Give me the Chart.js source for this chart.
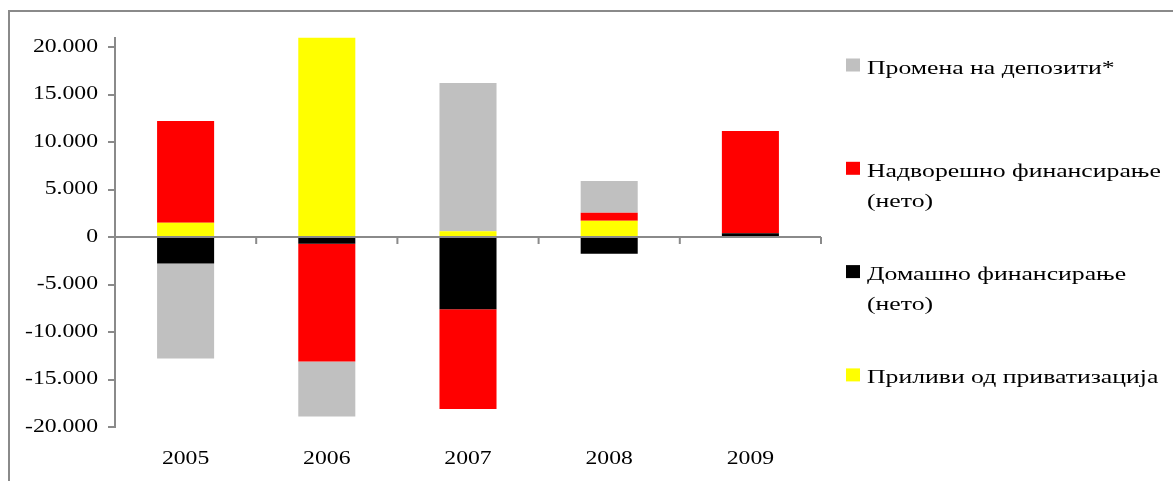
<!DOCTYPE html>
<html>
<head>
<meta charset="utf-8">
<script src="https://cdn.jsdelivr.net/npm/chart.js@4.4.1/dist/chart.umd.min.js"></script>
<style>
  html, body { margin: 0; padding: 0; background: #ffffff; }
  canvas { display: block; }
</style>
</head>
<body>
<canvas id="chart" width="1173" height="481"></canvas>
<script>
// Budget deficit financing by source, millions of denars
const years = ['2005', '2006', '2007', '2008', '2009'];
const privatizationInflows = [1500, 21000, 600, 1700, 0];
const domesticFinancing = [-2800, -700, -7600, -1750, 400];
const externalFinancing = [10700, -12400, -10500, 850, 10750];
const depositChange = [-10000, -5800, 15600, 3350, 0];

const seriesNames = [
  'Приливи од приватизација',
  'Домашно финансирање\n(нето)',
  'Надворешно финансирање\n(нето)',
  'Промена на депозити*'
];
const seriesColors = ['#ffff00', '#000000', '#ff0000', '#c0c0c0'];

const yTickValues = [-20000, -15000, -10000, -5000, 0, 5000, 10000, 15000, 20000];
const yMin = -20000;
const yMax = 21000;

const FONT = '18.5px "Liberation Serif", "Times New Roman", serif';
const AXIS_STRETCH = 1.28;
const LEGEND_STRETCH = 1.39;
const AXIS_GREY = '#8a8a8a';

function formatThousands(v) {
  const s = String(Math.abs(v)).replace(/\B(?=(\d{3})+(?!\d))/g, '.');
  return (v < 0 ? '-' : '') + s;
}

// Wide serif text, as in the printed report
function wideText(ctx, text, x, y, align, baseline, stretch) {
  ctx.save();
  ctx.translate(x, y);
  ctx.scale(stretch, 1);
  ctx.font = FONT;
  ctx.fillStyle = '#000000';
  ctx.textAlign = align;
  ctx.textBaseline = baseline;
  ctx.fillText(text, 0, 0);
  ctx.restore();
}

const framePlugin = {
  id: 'frame',
  beforeDraw(chart) {
    const ctx = chart.ctx;
    ctx.save();
    ctx.fillStyle = '#ffffff';
    ctx.fillRect(0, 0, chart.width, chart.height);
    ctx.fillStyle = AXIS_GREY;
    ctx.fillRect(8, 10, chart.width - 8, 2);
    ctx.fillRect(8, 10, 2, chart.height - 10);
    ctx.restore();
  }
};

const axisPlugin = {
  id: 'zeroAxis',
  afterDatasetsDraw(chart) {
    const ctx = chart.ctx;
    const x = chart.scales.x;
    const y = chart.scales.y;
    const area = chart.chartArea;
    const y0 = y.getPixelForValue(0);
    const n = chart.data.labels.length;
    const step = x.getPixelForValue(1) - x.getPixelForValue(0);

    ctx.save();
    ctx.strokeStyle = AXIS_GREY;
    ctx.lineWidth = 2;
    ctx.beginPath();
    ctx.moveTo(area.left, y0);
    ctx.lineTo(area.right, y0);
    for (let i = 0; i <= n; i++) {
      const bx = x.getPixelForValue(0) - step / 2 + i * step;
      ctx.moveTo(bx, y0);
      ctx.lineTo(bx, y0 + 7);
    }
    ctx.stroke();
    ctx.restore();

    // value labels on the vertical axis
    y.ticks.forEach(t => {
      wideText(ctx, formatThousands(t.value), area.left - 17, y.getPixelForValue(t.value), 'right', 'middle', AXIS_STRETCH);
    });
    // year labels along the bottom
    chart.data.labels.forEach((lab, i) => {
      wideText(ctx, lab, x.getPixelForValue(i), area.bottom + 32, 'center', 'middle', AXIS_STRETCH);
    });
  }
};

const legendPlugin = {
  id: 'sideLegend',
  afterDraw(chart) {
    const ctx = chart.ctx;
    const area = chart.chartArea;
    const entries = chart.data.datasets.map(d => ({
      lines: d.label.split('\n'),
      color: d.backgroundColor
    })).reverse();
    const markX = area.right + 25;
    const textX = area.right + 46;
    entries.forEach((e, i) => {
      const base = 73.5 + i * 103.3;
      ctx.save();
      ctx.fillStyle = e.color;
      ctx.fillRect(markX, base - 15, 14, 13);
      ctx.restore();
      e.lines.forEach((line, j) => {
        wideText(ctx, line, textX, base + j * 30, 'left', 'alphabetic', LEGEND_STRETCH);
      });
    });
  }
};

const seriesValues = [privatizationInflows, domesticFinancing, externalFinancing, depositChange];

new Chart(document.getElementById('chart'), {
  type: 'bar',
  data: {
    labels: years,
    datasets: seriesValues.map((vals, i) => ({
      label: seriesNames[i],
      data: vals,
      backgroundColor: seriesColors[i],
      borderWidth: 0,
      barPercentage: 0.404,
      categoryPercentage: 1
    }))
  },
  options: {
    responsive: false,
    animation: false,
    devicePixelRatio: 1,
    layout: { padding: { top: 37.5, right: 352, bottom: 54, left: 0 } },
    plugins: {
      legend: { display: false },
      tooltip: { enabled: false }
    },
    scales: {
      x: {
        display: false,
        stacked: true,
        offset: true
      },
      y: {
        stacked: true,
        min: yMin,
        max: yMax,
        afterBuildTicks: s => { s.ticks = yTickValues.map(v => ({ value: v })); },
        afterFit: s => { s.width = 115; },
        ticks: { display: false },
        grid: {
          drawOnChartArea: false,
          drawTicks: true,
          tickLength: 7,
          color: AXIS_GREY,
          lineWidth: 2
        },
        border: { display: true, color: AXIS_GREY, width: 2 }
      }
    }
  },
  plugins: [framePlugin, axisPlugin, legendPlugin]
});
</script>
</body>
</html>
